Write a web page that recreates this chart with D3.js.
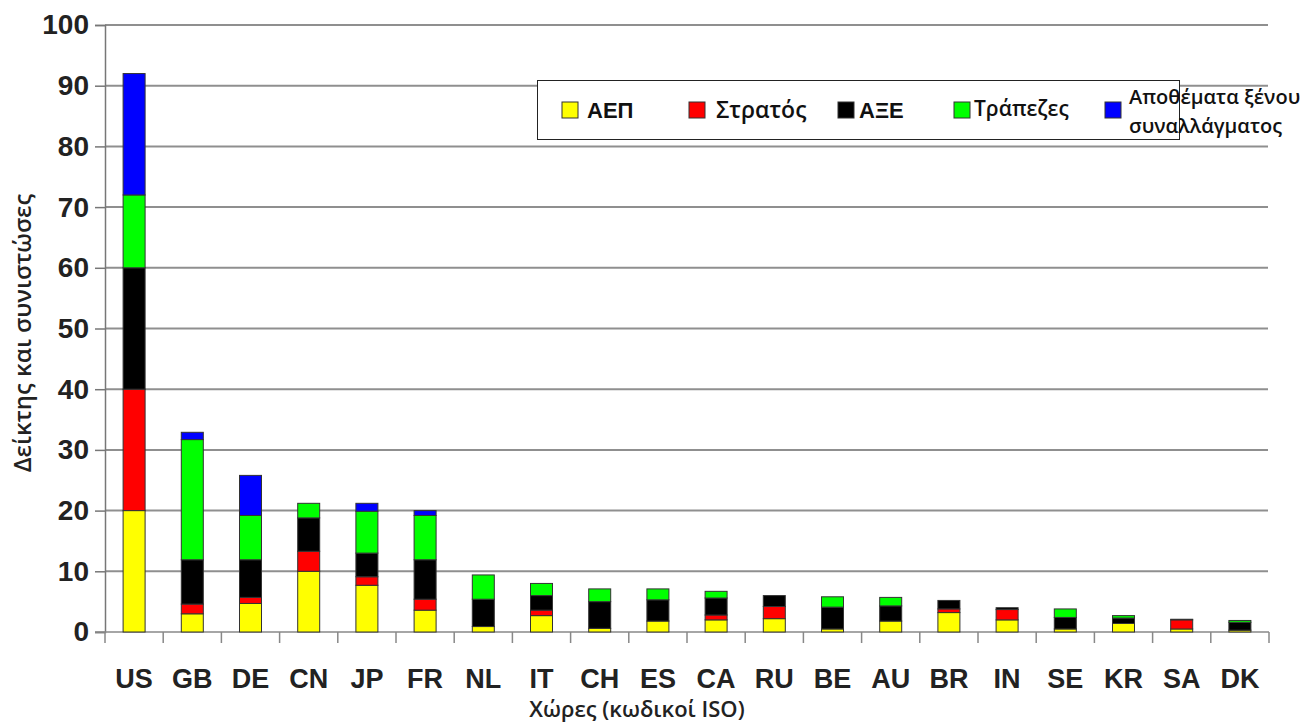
<!DOCTYPE html>
<html>
<head>
<meta charset="utf-8">
<script src="https://cdn.jsdelivr.net/npm/d3@7"></script>
<style>
  body { margin: 0; background: #fff; }
  svg { display: block; }
</style>
</head>
<body>
<svg id="chart"></svg>
<script>
// Data
var countries = ["US","GB","DE","CN","JP","FR","NL","IT","CH","ES","CA","RU","BE","AU","BR","IN","SE","KR","SA","DK"];
var gdp       = [20, 3.0, 4.7, 10, 7.7, 3.6, 0.9, 2.7, 0.6, 1.8, 2.0, 2.2, 0.5, 1.8, 3.2, 2.0, 0.5, 1.4, 0.5, 0.3];
var military  = [20, 1.6, 1.0, 3.3, 1.4, 1.8, 0,   0.9, 0,   0,   0.8, 2.0, 0,   0,   0.6, 1.7, 0,   0,   1.5, 0];
var fdi       = [20, 7.3, 6.2, 5.5, 3.9, 6.5, 4.5, 2.4, 4.4, 3.5, 2.8, 1.8, 3.6, 2.5, 1.4, 0.3, 1.9, 0.9, 0.1, 1.3];
var banks     = [12, 19.8, 7.3, 2.4, 6.9, 7.3, 4.0, 2.0, 2.1, 1.8, 1.1, 0,  1.7, 1.4, 0,   0,   1.4, 0.4, 0,   0.3];
var reserves  = [20, 1.2, 6.6, 0,   1.3, 0.8, 0,   0,   0,   0,   0,   0,   0,   0,   0,   0,   0,   0,   0,   0];

var seriesNames = ["ΑΕΠ", "Στρατός", "ΑΞΕ", "Τράπεζες", "Αποθέματα ξένου συναλλάγματος"];
var seriesKeys  = ["gdp", "military", "fdi", "banks", "reserves"];
var colors      = ["#ffff00", "#ff0000", "#000000", "#00ff00", "#0000ff"];
var yTicks      = [0, 10, 20, 30, 40, 50, 60, 70, 80, 90, 100];

var width = 1314, height = 724;
var svg = d3.select("#chart").attr("width", width).attr("height", height);
svg.append("rect").attr("width", width).attr("height", height).attr("fill", "#fff");

// table for d3.stack
var table = countries.map(function(c, i){
    return {country: c, gdp: gdp[i], military: military[i], fdi: fdi[i], banks: banks[i], reserves: reserves[i]};
});

var x = d3.scaleBand().domain(countries).range([105, 1269]).padding(0);
var y = d3.scaleLinear().domain([0, 100]).range([632, 25]);
var barW = 22;

var boldFont = "'Liberation Sans', Arial, sans-serif";
var lightFont = "'Open Sans', 'Noto Sans', sans-serif";

// gridlines
svg.append("g")
    .selectAll("line")
    .data(yTicks.filter(function(d){ return d > 0; }))
    .join("line")
    .attr("x1", 105).attr("x2", 1268)
    .attr("y1", function(d){ return y(d); }).attr("y2", function(d){ return y(d); })
    .attr("stroke", "#8f8f8f").attr("stroke-width", 2);

// y axis
var yAxis = svg.append("g").attr("transform", "translate(105,0)")
    .call(d3.axisLeft(y).tickValues(yTicks).tickSize(10).tickPadding(6));
yAxis.select(".domain").attr("stroke", "#777").attr("stroke-width", 1.5);
yAxis.selectAll(".tick line").attr("stroke", "#777").attr("stroke-width", 1.5);
yAxis.selectAll(".tick text")
    .attr("font-family", boldFont).attr("font-weight", "bold").attr("font-size", 28)
    .attr("fill", "#222");

// x axis: line + boundary ticks
svg.append("line").attr("x1", 95).attr("x2", 1269).attr("y1", 632).attr("y2", 632)
    .attr("stroke", "#888").attr("stroke-width", 1.5);
var bounds = countries.map(function(c){ return x(c); }).concat([x.range()[1]]);
svg.append("g").selectAll("line").data(bounds).join("line")
    .attr("x1", function(d){ return d; }).attr("x2", function(d){ return d; })
    .attr("y1", 632).attr("y2", 643)
    .attr("stroke", "#888").attr("stroke-width", 1.5);

svg.append("g").selectAll("text").data(countries).join("text")
    .attr("x", function(d){ return x(d) + x.bandwidth()/2; })
    .attr("y", 688)
    .attr("text-anchor", "middle")
    .attr("font-family", boldFont).attr("font-weight", "bold").attr("font-size", 27)
    .attr("fill", "#222")
    .text(function(d){ return d; });

// stacked bars
var stacked = d3.stack().keys(seriesKeys)(table);
svg.append("g").selectAll("g").data(stacked).join("g")
    .attr("fill", function(d, i){ return colors[i]; })
    .selectAll("rect")
    .data(function(d){ return d.filter(function(p){ return p[1] - p[0] > 0; }); })
    .join("rect")
    .attr("x", function(d){ return x(d.data.country) + x.bandwidth()/2 - barW/2; })
    .attr("width", barW)
    .attr("y", function(d){ return y(d[1]); })
    .attr("height", function(d){ return y(d[0]) - y(d[1]); })
    .attr("stroke", "#333").attr("stroke-width", 1);

// axis titles
svg.append("text")
    .attr("transform", "translate(31,333) rotate(-90)")
    .attr("text-anchor", "middle")
    .attr("font-family", lightFont).attr("font-weight", 600).attr("font-size", 24).attr("fill", "#222")
    .text("Δείκτης και συνιστώσες");

svg.append("text")
    .attr("x", 637).attr("y", 717)
    .attr("text-anchor", "middle")
    .attr("font-family", lightFont).attr("font-weight", 600).attr("font-size", 22).attr("fill", "#222")
    .text("Χώρες (κωδικοί ISO)");

// legend
var legend = svg.append("g");
legend.append("rect").attr("x", 537.5).attr("y", 80.5).attr("width", 642).attr("height", 59)
    .attr("fill", "#fff").attr("stroke", "#222").attr("stroke-width", 1);

var legendX = [562, 689, 838, 954, 1105];
var textX   = [587, 716, 859, 974, 1129];
legend.selectAll("rect.key").data(seriesNames).join("rect")
    .attr("class", "key")
    .attr("x", function(d, i){ return legendX[i]; }).attr("y", 102)
    .attr("width", 16).attr("height", 16)
    .attr("fill", function(d, i){ return colors[i]; })
    .attr("stroke", "#333").attr("stroke-width", 1);

legend.append("text").attr("x", textX[0]).attr("y", 118)
    .attr("font-family", boldFont).attr("font-weight", "bold").attr("font-size", 22)
    .attr("fill", "#111").text(seriesNames[0]);
legend.append("text").attr("x", textX[1]).attr("y", 118)
    .attr("font-family", lightFont).attr("font-weight", 600).attr("font-size", 23)
    .attr("fill", "#111").text(seriesNames[1]);
legend.append("text").attr("x", textX[2]).attr("y", 118)
    .attr("font-family", boldFont).attr("font-weight", "bold").attr("font-size", 22)
    .attr("fill", "#111").text(seriesNames[2]);
legend.append("text").attr("x", textX[3]).attr("y", 116)
    .attr("font-family", lightFont).attr("font-weight", 600).attr("font-size", 21)
    .attr("fill", "#111").text(seriesNames[3]);
var multi = legend.append("text")
    .attr("font-family", lightFont).attr("font-weight", 600).attr("font-size", 20)
    .attr("fill", "#111");
multi.append("tspan").attr("x", textX[4]).attr("y", 104).text("Αποθέματα ξένου");
multi.append("tspan").attr("x", textX[4]).attr("y", 133).text("συναλλάγματος");
</script>
</body>
</html>
